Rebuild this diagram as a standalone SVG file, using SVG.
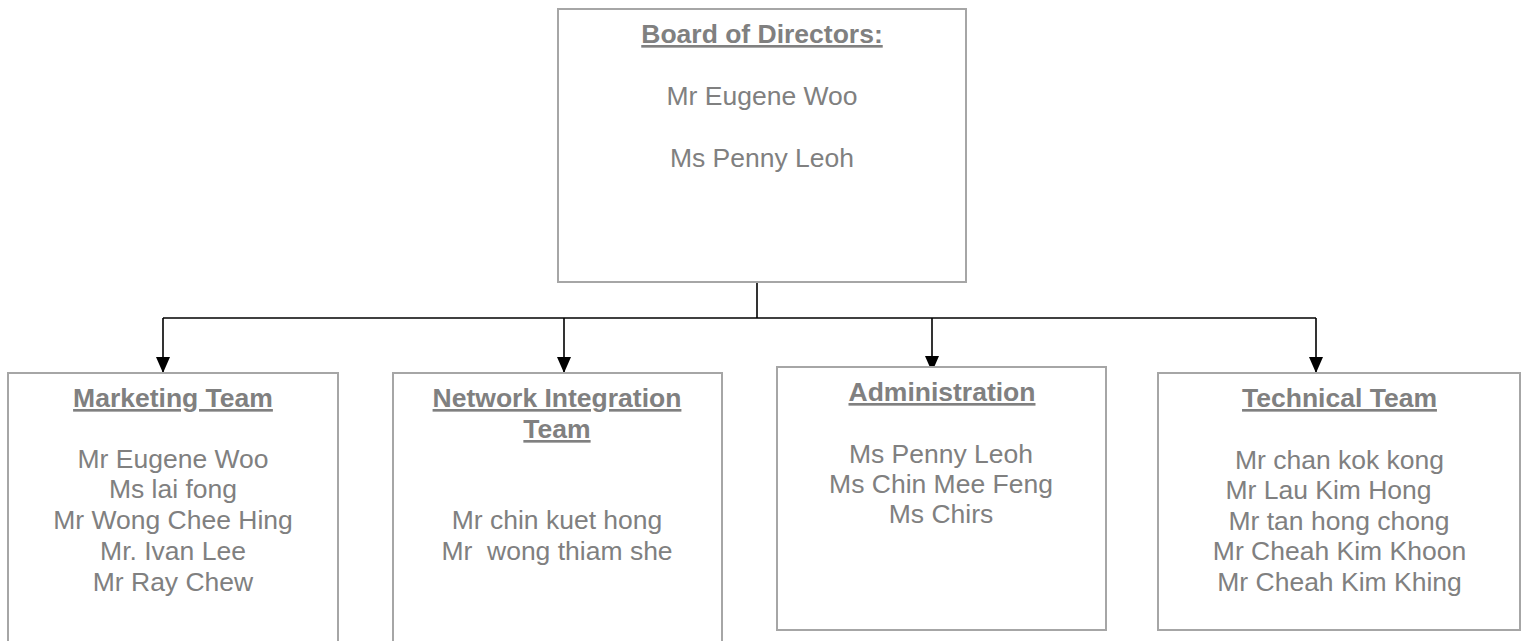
<svg xmlns="http://www.w3.org/2000/svg" width="1522" height="641" viewBox="0 0 1522 641">
<style>
.box{fill:#ffffff;stroke:#a6a6a6;stroke-width:2}
.t{font-family:"Liberation Sans",Arial,sans-serif;font-size:26.5px;fill:#808080;text-anchor:middle;white-space:pre}
.h{font-weight:bold;text-decoration:underline}
.c{fill:none;stroke:#000000;stroke-width:1.6}
</style>
<defs>
<marker id="arr" markerUnits="userSpaceOnUse" markerWidth="16" markerHeight="14" viewBox="0 0 16 14" refX="16" refY="7" orient="auto">
<path d="M0,0 L16,7 L0,14 z" fill="#000000"/>
</marker>
</defs>
<rect width="1522" height="641" fill="#ffffff"/>
<g id="connectors">
<path class="c" d="M757,282 V318"/>
<path class="c" d="M163,318 H1316"/>
<path class="c" d="M163,318 V373" marker-end="url(#arr)"/>
<path class="c" d="M564,318 V373" marker-end="url(#arr)"/>
<path class="c" d="M932,318 V372" marker-end="url(#arr)"/>
<path class="c" d="M1316,318 V373" marker-end="url(#arr)"/>
</g>
<g id="board">
<rect class="box" x="558" y="9" width="408" height="273"/>
<text class="t h" x="762" y="43">Board of Directors:</text>
<text class="t" x="762" y="105">Mr Eugene Woo</text>
<text class="t" x="762" y="167">Ms Penny Leoh</text>
</g>
<g id="marketing">
<rect class="box" x="8" y="373" width="330" height="300"/>
<text class="t h" x="173" y="407">Marketing Team</text>
<text class="t" x="173" y="468">Mr Eugene Woo</text>
<text class="t" x="173" y="498">Ms lai fong</text>
<text class="t" x="173" y="529">Mr Wong Chee Hing</text>
<text class="t" x="173" y="560">Mr. Ivan Lee</text>
<text class="t" x="173" y="591">Mr Ray Chew</text>
</g>
<g id="network">
<rect class="box" x="393" y="373" width="329" height="300"/>
<text class="t h" x="557" y="407">Network Integration</text>
<text class="t h" x="557" y="438">Team</text>
<text class="t" x="557" y="529">Mr chin kuet hong</text>
<text class="t" x="557" y="560" xml:space="preserve">Mr  wong thiam she</text>
</g>
<g id="administration">
<rect class="box" x="777" y="367" width="329" height="263"/>
<text class="t h" x="942" y="401">Administration</text>
<text class="t" x="941" y="463">Ms Penny Leoh</text>
<text class="t" x="941" y="493">Ms Chin Mee Feng</text>
<text class="t" x="941" y="523">Ms Chirs</text>
</g>
<g id="technical">
<rect class="box" x="1158" y="373" width="362" height="257"/>
<text class="t h" x="1339.5" y="407">Technical Team</text>
<text class="t" x="1339.5" y="469">Mr chan kok kong</text>
<text class="t" x="1328.5" y="499">Mr Lau Kim Hong</text>
<text class="t" x="1339" y="530">Mr tan hong chong</text>
<text class="t" x="1339.5" y="560">Mr Cheah Kim Khoon</text>
<text class="t" x="1339.5" y="591">Mr Cheah Kim Khing</text>
</g>
</svg>
